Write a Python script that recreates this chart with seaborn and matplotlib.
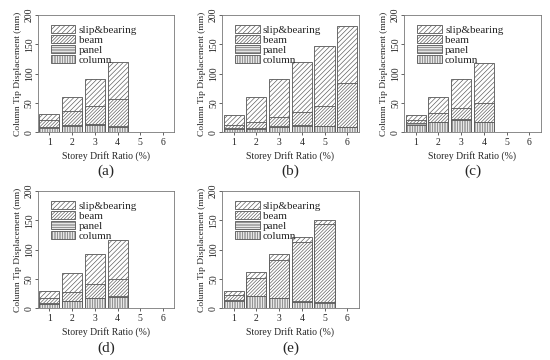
import pandas as pd
import matplotlib
matplotlib.use("Agg")
import matplotlib.pyplot as plt
import seaborn as sns
from matplotlib.patches import Patch

sns.set_style("ticks")
plt.rcParams["font.family"] = ["Liberation Serif", "DejaVu Serif"]
plt.rcParams["hatch.linewidth"] = 0.45
plt.rcParams["hatch.color"] = "#555555"

# Storey drift ratio ticks
drift = ["1", "2", "3", "4", "5", "6"]
components = ["column", "panel", "beam", "slip&bearing"]
hatches = {"column": "|" * 10, "panel": "-" * 10,
           "beam": "/" * 10, "slip&bearing": "/" * 7}

# segment values (mm), one list per component for each panel
a_column = [7, 10, 12, 9]
a_panel = [2, 3, 2, 2]
a_beam = [12, 23, 31, 45]
a_slip = [10, 24, 45, 64]

b_column = [5, 5, 8, 11, 10, 8]
b_panel = [2, 2, 2, 2, 1, 1]
b_beam = [6, 10, 16, 22, 33, 75]
b_slip = [17, 43, 64, 85, 104, 98]

c_column = [12, 17, 20, 17]
c_panel = [4, 1, 3, 1]
c_beam = [5, 14, 18, 32]
c_slip = [9, 28, 49, 69]

d_column = [7, 12, 17, 19]
d_panel = [2, 1, 1, 1]
d_beam = [8, 15, 23, 30]
d_slip = [13, 32, 51, 67]

e_column = [13, 20, 17, 11, 9]
e_panel = [1, 1, 1, 1, 1]
e_beam = [9, 30, 64, 101, 134]
e_slip = [7, 10, 10, 8, 7]

panels = {
    "(a)": [a_column, a_panel, a_beam, a_slip],
    "(b)": [b_column, b_panel, b_beam, b_slip],
    "(c)": [c_column, c_panel, c_beam, c_slip],
    "(d)": [d_column, d_panel, d_beam, d_slip],
    "(e)": [e_column, e_panel, e_beam, e_slip],
}

positions = {
    "(a)": [0.069, 0.633],
    "(b)": [0.404, 0.633],
    "(c)": [0.735, 0.633],
    "(d)": [0.069, 0.144],
    "(e)": [0.404, 0.144],
}
w, h = 0.248, 0.325

fig = plt.figure(figsize=(5.5, 3.6), dpi=100)

for name, segs in panels.items():
    left, bottom = positions[name]
    ax = fig.add_axes([left, bottom, w, h])
    n = len(segs[0])
    df = pd.DataFrame({c: s for c, s in zip(components, segs)})
    df["drift"] = drift[:n]
    cum = df[components].cumsum(axis=1)
    # overlay cumulative bars from tallest to shortest
    for comp in reversed(components):
        sns.barplot(x=df["drift"], y=cum[comp], order=drift, width=0.88,
                    color="white", edgecolor="#555555", linewidth=0.6,
                    hatch=hatches[comp], ax=ax)
    ax.set_xlim(-0.5, 5.5)
    ax.set_ylim(0, 200)
    ax.set_yticks([0, 50, 100, 150, 200])
    ax.tick_params(axis="y", labelrotation=90, labelsize=7, length=2, width=0.5, pad=1)
    ax.tick_params(axis="x", labelsize=7, length=2, width=0.5, pad=2)
    for lab in ax.get_yticklabels():
        lab.set_va("center")
    for sp in ax.spines.values():
        sp.set_color("#777777")
        sp.set_linewidth(0.6)
    ax.set_xlabel("Storey Drift Ratio (%)", fontsize=7, labelpad=3)
    ax.set_ylabel("Column Tip Displacement (mm)", fontsize=6.8, labelpad=2)
    handles = [Patch(facecolor="white", edgecolor="#555555", linewidth=0.6,
                     hatch=hatches[c], label=c) for c in reversed(components)]
    ax.legend(handles=handles, loc="upper left", frameon=False, fontsize=8,
              handlelength=2.2, handleheight=0.75, labelspacing=0.0,
              handletextpad=0.3, borderaxespad=0.4, bbox_to_anchor=(0.03, 0.99))
    fig.text(left + w / 2, bottom - 0.11, name, ha="center", va="center",
             fontsize=11)

fig.savefig("out.png", dpi=100)
